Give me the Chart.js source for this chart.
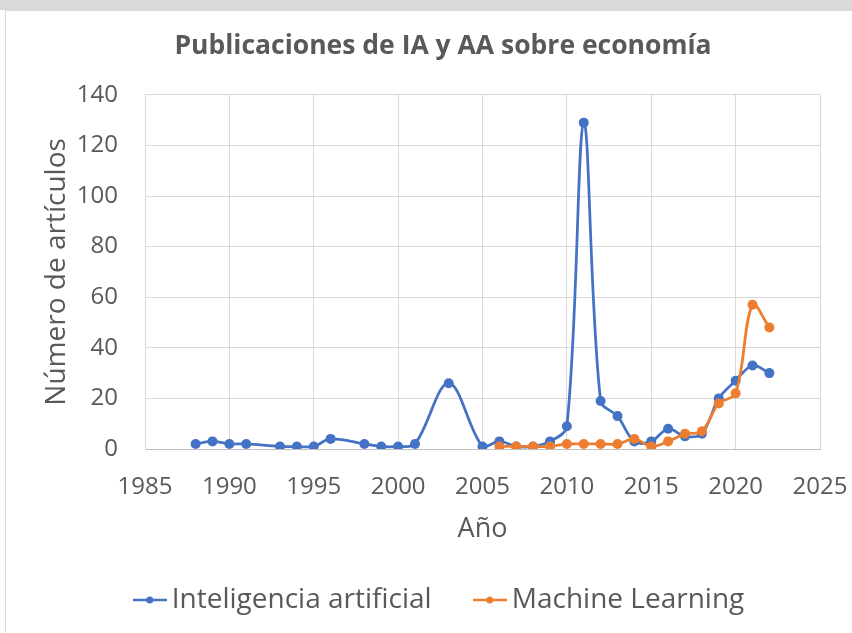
<!DOCTYPE html>
<html>
<head>
<meta charset="utf-8">
<script src="https://cdn.jsdelivr.net/npm/chart.js@4.4.0/dist/chart.umd.min.js"></script>
<style>
  html, body { margin: 0; padding: 0; background: #fff; }
  #band { position: absolute; left: 0; top: 0; width: 852px; height: 10px; background: #d9d9d9; }
  #frame { position: absolute; left: 5px; top: 10px; width: 847px; height: 623px; border-left: 1px solid #d9d9d9; border-top: 1px solid #d9d9d9; }
  canvas { position: absolute; left: 0; top: 0; }
</style>
</head>
<body>
<div id="band"></div>
<div id="frame"></div>
<canvas id="pubChart" width="852" height="633"></canvas>
<script>
const iaYears = [1988, 1989, 1990, 1991, 1993, 1994, 1995, 1996, 1998, 1999, 2000, 2001, 2003, 2005, 2006, 2007, 2008, 2009, 2010, 2011, 2012, 2013, 2014, 2015, 2016, 2017, 2018, 2019, 2020, 2021, 2022];
const iaValues = [2, 3, 2, 2, 1, 1, 1, 4, 2, 1, 1, 2, 26, 1, 3, 1, 1, 3, 9, 129, 19, 13, 3, 3, 8, 5, 6, 20, 27, 33, 30];
const mlYears = [2006, 2007, 2008, 2009, 2010, 2011, 2012, 2013, 2014, 2015, 2016, 2017, 2018, 2019, 2020, 2021, 2022];
const mlValues = [1, 1, 1, 1, 2, 2, 2, 2, 4, 1, 3, 6, 7, 18, 22, 57, 48];
const xTicks = [1985, 1990, 1995, 2000, 2005, 2010, 2015, 2020, 2025];
const yTicks = [0, 20, 40, 60, 80, 100, 120, 140];
const seriesNames = ['Inteligencia artificial', 'Machine Learning'];

const blue = '#4472C4';
const orange = '#ED7D31';
const textColor = '#595959';
const fontFamily = "'Open Sans', 'Noto Sans', sans-serif";

// little line+dot marker like Excel's legend
function legendMarker(color) {
    const c = document.createElement('canvas');
    c.width = 34;
    c.height = 10;
    const g = c.getContext('2d');
    g.strokeStyle = color;
    g.lineWidth = 2.5;
    g.beginPath();
    g.moveTo(0, 5);
    g.lineTo(34, 5);
    g.stroke();
    g.fillStyle = color;
    g.beginPath();
    g.arc(17, 5, 3.5, 0, Math.PI * 2);
    g.fill();
    return c;
}
const markers = [legendMarker(blue), legendMarker(orange)];

const toPoints = (xs, ys) => xs.map((x, i) => ({ x: x, y: ys[i] }));

const ctx = document.getElementById('pubChart').getContext('2d');
new Chart(ctx, {
    type: 'line',
    data: {
        datasets: [{
            label: seriesNames[0],
            data: toPoints(iaYears, iaValues),
            borderColor: blue,
            backgroundColor: blue,
            borderWidth: 2.75,
            pointRadius: 5,
            pointBorderWidth: 0,
            tension: 0.35,
            order: 1
        }, {
            label: seriesNames[1],
            data: toPoints(mlYears, mlValues),
            borderColor: orange,
            backgroundColor: orange,
            borderWidth: 2.75,
            pointRadius: 5,
            pointBorderWidth: 0,
            tension: 0.35,
            order: 0
        }]
    },
    options: {
        responsive: false,
        animation: false,
        layout: { padding: { left: 31, right: -3, top: 0, bottom: 9 } },
        plugins: {
            title: {
                display: true,
                text: 'Publicaciones de IA y AA sobre economía',
                color: textColor,
                font: { family: fontFamily, size: 26.5, weight: 'bold' },
                padding: { top: 31, bottom: 32 }
            },
            legend: {
                position: 'bottom',
                labels: {
                    color: textColor,
                    font: { family: fontFamily, size: 28 },
                    usePointStyle: true,
                    pointStyleWidth: 16,
                    padding: 21,
                    generateLabels: chart => chart.data.datasets.map((ds, i) => ({
                        // trailing spaces widen the gap between the two entries
                        text: i === 0 ? ds.label + '    ' : ds.label,
                        pointStyle: markers[i],
                        fontColor: textColor,
                        fillStyle: 'transparent',
                        strokeStyle: 'transparent',
                        lineWidth: 0,
                        hidden: !chart.isDatasetVisible(i),
                        datasetIndex: i
                    }))
                }
            },
            tooltip: { enabled: false }
        },
        scales: {
            x: {
                type: 'linear',
                min: 1985,
                max: 2025,
                afterBuildTicks: scale => { scale.ticks = xTicks.map(v => ({ value: v })); },
                afterFit: scale => {
                    scale.height = 116;
                    scale.paddingLeft = 0;
                    scale.paddingRight = 32;
                },
                ticks: {
                    color: textColor,
                    font: { family: fontFamily, size: 24 },
                    padding: 24,
                    maxRotation: 0,
                    callback: v => String(v)
                },
                grid: { color: '#d9d9d9', drawTicks: false },
                border: { color: '#bfbfbf' },
                title: {
                    display: true,
                    text: 'Año',
                    color: textColor,
                    font: { family: fontFamily, size: 27 },
                    padding: { top: 0, bottom: 19 }
                }
            },
            y: {
                min: 0,
                max: 140,
                afterBuildTicks: scale => { scale.ticks = yTicks.map(v => ({ value: v })); },
                afterFit: scale => { scale.width = 114; },
                ticks: {
                    color: textColor,
                    font: { family: fontFamily, size: 24 },
                    padding: 27,
                    callback: v => String(v)
                },
                grid: { color: '#d9d9d9', drawTicks: false },
                border: { color: '#d9d9d9' },
                title: {
                    display: true,
                    text: 'Número de artículos',
                    color: textColor,
                    font: { family: fontFamily, size: 28 },
                    padding: { top: 9, bottom: 0 }
                }
            }
        }
    }
});
</script>
</body>
</html>
